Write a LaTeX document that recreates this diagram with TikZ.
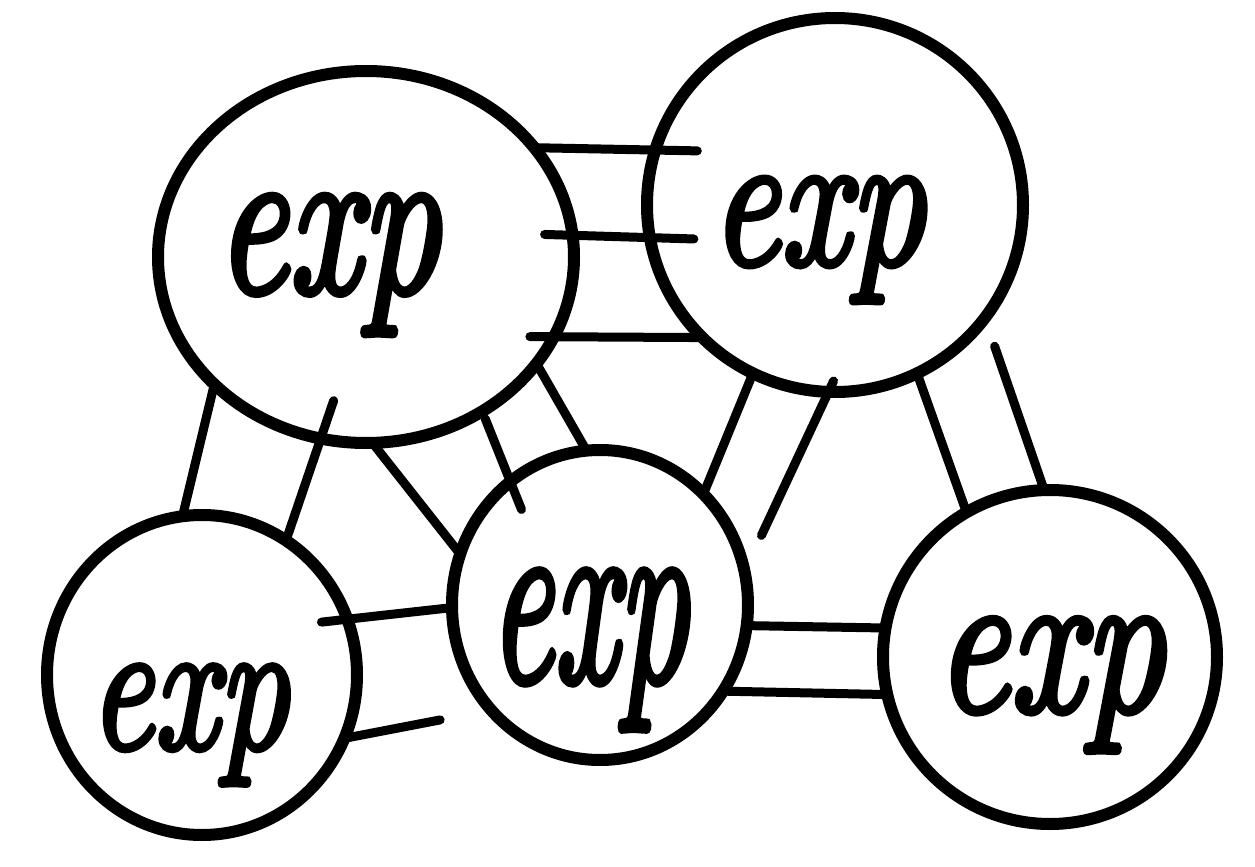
\documentclass[tikz,border=0pt]{standalone}
\usepackage{graphicx}
\usepackage{fontspec}
\newfontfamily\handfont{Latin Modern Roman}[FakeBold=3,ItalicFeatures={FakeBold=3}]
\usetikzlibrary{shapes.geometric}
\begin{document}
\begin{tikzpicture}[x=0.5pt,y=-0.5pt,
  circ/.style={ellipse,draw,line width=6pt,inner sep=0pt,outer sep=0pt},
  lnk/.style={line width=4.5pt,line cap=round},
  lbl/.style={inner sep=0pt,font=\handfont\itshape}]
\useasboundingbox (0,0) rectangle (1255,867);
% circles
\node[circ,minimum width=208pt,minimum height=186pt] (c1) at (366,257) {};
\node[circ,minimum width=188pt,minimum height=187pt] (c2) at (835,205) {};
\node[circ,minimum width=155pt,minimum height=160pt] (c3) at (202,675) {};
\node[circ,minimum width=148pt,minimum height=155pt] (c4) at (600,605) {};
\node[circ,minimum width=167pt,minimum height=167pt] (c5) at (1050,657) {};
% labels
\node[lbl] (t1) at (328,265) {\resizebox*{112.5pt}{70pt}{exp}};
\node[lbl] (t2) at (818,240) {\resizebox*{107.5pt}{62.5pt}{exp}};
\node[lbl] (t3) at (189,725) {\resizebox*{100pt}{60pt}{exp}};
\node[lbl] (t4) at (589,650) {\resizebox*{100pt}{80pt}{exp}};
\node[lbl] (t5) at (1050,685) {\resizebox*{115pt}{67pt}{exp}};
% 1-2
\draw[lnk,shorten >=-21pt] (c1.33) -- (c2.163);
\draw[lnk,shorten <=-14pt,shorten >=-22pt] (c1.6) -- (c2.190);
\draw[lnk,shorten <=-12pt] (c1.337) -- (c2.225);
% 1-3
\draw[lnk] (c1.220) -- (c3.97);
\draw[lnk,shorten <=-20pt] (c1.256) -- (c3.58);
% 1-4
\draw[lnk] (c1.272) -- (c4.160);
\draw[lnk,shorten <=4pt,shorten >=-15pt] (c1.307) -- (c4.126);
\draw[lnk] (c1.328) -- (c4.95);
% 2-4
\draw[lnk] (c2.244) -- (c4.47);
\draw[lnk,shorten <=-6pt,shorten >=20pt] (c2.268) -- (c4.13);
% 2-5
\draw[lnk] (c2.296) -- (c5.120);
\draw[lnk,shorten <=15pt] (c2.323) -- (c5.92);
% 3-4
\draw[lnk,shorten <=-13pt] (c3.21) -- (c4.181);
\draw[lnk,shorten >=26pt] (c3.336) -- (c4.224);
% 4-5
\draw[lnk] (c4.352) -- (c5.170);
\draw[lnk] (c4.325) -- (c5.193);
\end{tikzpicture}
\end{document}
